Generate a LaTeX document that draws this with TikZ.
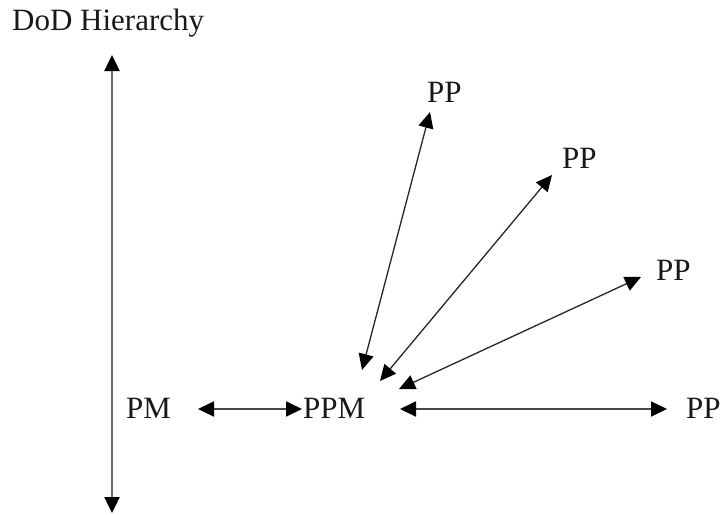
\documentclass[tikz,border=0pt]{standalone}
\usepackage{fontspec}
\setmainfont{Liberation Serif}
\usetikzlibrary{arrows.meta}
\begin{document}
\begin{tikzpicture}[x=1pt,y=-1pt,
  lbl/.style={inner sep=0pt,anchor=base west,text=black!90,font=\fontsize{31}{37}\selectfont},
  tip/.style={{Triangle[length=16pt,width=15pt,color=black]}-{Triangle[length=16pt,width=15pt,color=black]}},
  axis/.style={tip,line width=2.4pt,draw=black!58},
  hconn/.style={tip,line width=1.8pt,draw=black!72},
  dconn/.style={tip,line width=1.3pt,draw=black!85}]
\useasboundingbox (0,0) rectangle (722,514);
% labels
\node[lbl] (dod) at (12,30) {DoD Hierarchy};
\node[lbl] (pm)  at (126,418) {PM};
\node[lbl] (ppm) at (303,418) {PPM};
\node[lbl] (ppr) at (686,418) {PP};
\node[lbl] (pp1) at (427,102) {PP};
\node[lbl] (pp2) at (562,168) {PP};
\node[lbl] (pp3) at (656,280) {PP};
% connector end points
\coordinate (axtop) at (112,55);
\coordinate (axbot) at (112,513);
\coordinate (pmR)  at (198,409);
\coordinate (ppmL) at (302,409);
\coordinate (ppmR) at (400,409);
\coordinate (pprL) at (667,409);
\coordinate (ppmA) at (362,370);
\coordinate (pp1B) at (430,112);
\coordinate (ppmB) at (380,381);
\coordinate (pp2B) at (552,175);
\coordinate (ppmC) at (399,389);
\coordinate (pp3B) at (641,277);
% connectors
\draw[axis]  (axtop) -- (axbot);
\draw[hconn] (pmR) -- (ppmL);
\draw[hconn] (ppmR) -- (pprL);
\draw[dconn] (ppmA) -- (pp1B);
\draw[dconn] (ppmB) -- (pp2B);
\draw[dconn] (ppmC) -- (pp3B);
\end{tikzpicture}
\end{document}
